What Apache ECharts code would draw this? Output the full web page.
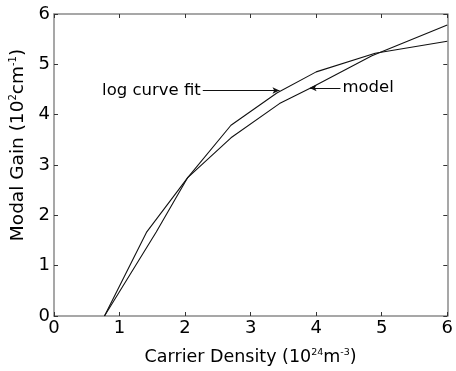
<!DOCTYPE html>
<html><head><meta charset="utf-8">
<script src="https://cdn.jsdelivr.net/npm/echarts@6/dist/echarts.min.js"></script>
<style>html,body{margin:0;padding:0;background:#fff}#c{width:456px;height:371px}</style>
</head><body><div id="c"></div>
<script>
// Data
const logFitX = [0.77, 1.41, 2.04, 2.70, 3.40, 4.00, 4.90, 6.00];
const logFitY = [0.00, 1.66, 2.75, 3.79, 4.43, 4.85, 5.22, 5.46];
const modelX  = [0.77, 1.56, 2.04, 2.70, 3.44, 3.90, 4.85, 6.00];
const modelY  = [0.00, 1.67, 2.75, 3.54, 4.22, 4.52, 5.17, 5.78];
const xTicks = [0, 1, 2, 3, 4, 5, 6];
const yTicks = [0, 1, 2, 3, 4, 5, 6];
const logArrow = [[2.27, 4.48], [3.44, 4.48]];
const modelArrow = [[4.37, 4.53], [3.90, 4.53]];

const FONT = 'DejaVu Sans';
const axisGray = '#8a8a8a';
const zip = (a, b) => a.map((v, i) => [v, b[i]]);

const chart = echarts.init(document.getElementById('c'));
const baseAxis = {
  min: xTicks[0], max: xTicks[xTicks.length - 1], interval: 1,
  axisLine: {show: true, onZero: false, lineStyle: {color: axisGray, width: 1.5}},
  axisTick: {show: true, inside: true, length: 4, lineStyle: {color: '#333'}},
  splitLine: {show: false}
};
chart.setOption({
  animation: false,
  grid: {left: 54, right: 8, top: 14, bottom: 51},
  xAxis: [
    Object.assign({}, baseAxis, {
      type: 'value', position: 'bottom',
      axisLabel: {color: '#000', fontFamily: FONT, fontSize: 18, margin: 3},
      name: '{a|Carrier Density (10}{s|24}{a|m}{s|-3}{a|)}',
      nameLocation: 'middle', nameGap: 32,
      nameTextStyle: {rich: {
        a: {fontFamily: FONT, fontSize: 17.5, color: '#000'},
        s: {fontFamily: FONT, fontSize: 9.5, color: '#000', verticalAlign: 'top', padding: [0, 0, 8, 0]}
      }}
    }),
    Object.assign({}, baseAxis, {type: 'value', position: 'top', axisLabel: {show: false}})
  ],
  yAxis: [
    Object.assign({}, baseAxis, {
      min: yTicks[0], max: yTicks[yTicks.length - 1],
      type: 'value', position: 'left',
      axisLabel: {color: '#000', fontFamily: FONT, fontSize: 18, margin: 4},
      name: '{a|Modal Gain (10}{s|2}{a|cm}{s|-1}{a|)}',
      nameLocation: 'middle', nameGap: 25,
      nameTextStyle: {padding: [0, 0, 0, 40], rich: {
        a: {fontFamily: FONT, fontSize: 18.5, color: '#000'},
        s: {fontFamily: FONT, fontSize: 10, color: '#000', verticalAlign: 'top', padding: [0, 0, 8, 0]}
      }}
    }),
    Object.assign({}, baseAxis, {type: 'value', position: 'right', axisLabel: {show: false}})
  ],
  series: [
    {
      name: 'log curve fit', type: 'line', data: zip(logFitX, logFitY),
      showSymbol: false, lineStyle: {color: '#111', width: 1.1},
      markLine: {
        silent: true, symbol: ['none', 'arrow'], symbolSize: [5, 7],
        lineStyle: {color: '#111', width: 1, type: 'solid'},
        label: {show: true, position: 'start', formatter: 'log curve fit',
          fontFamily: FONT, fontSize: 16.5, color: '#000', distance: 2},
        data: [[{coord: logArrow[0]}, {coord: logArrow[1]}]]
      }
    },
    {
      name: 'model', type: 'line', data: zip(modelX, modelY),
      showSymbol: false, lineStyle: {color: '#111', width: 1.1},
      markLine: {
        silent: true, symbol: ['none', 'arrow'], symbolSize: [5, 7],
        lineStyle: {color: '#111', width: 1, type: 'solid'},
        label: {show: true, position: 'start', formatter: 'model',
          fontFamily: FONT, fontSize: 16.5, color: '#000', distance: 2},
        data: [[{coord: modelArrow[0]}, {coord: modelArrow[1]}]]
      }
    }
  ]
});
</script></body></html>
